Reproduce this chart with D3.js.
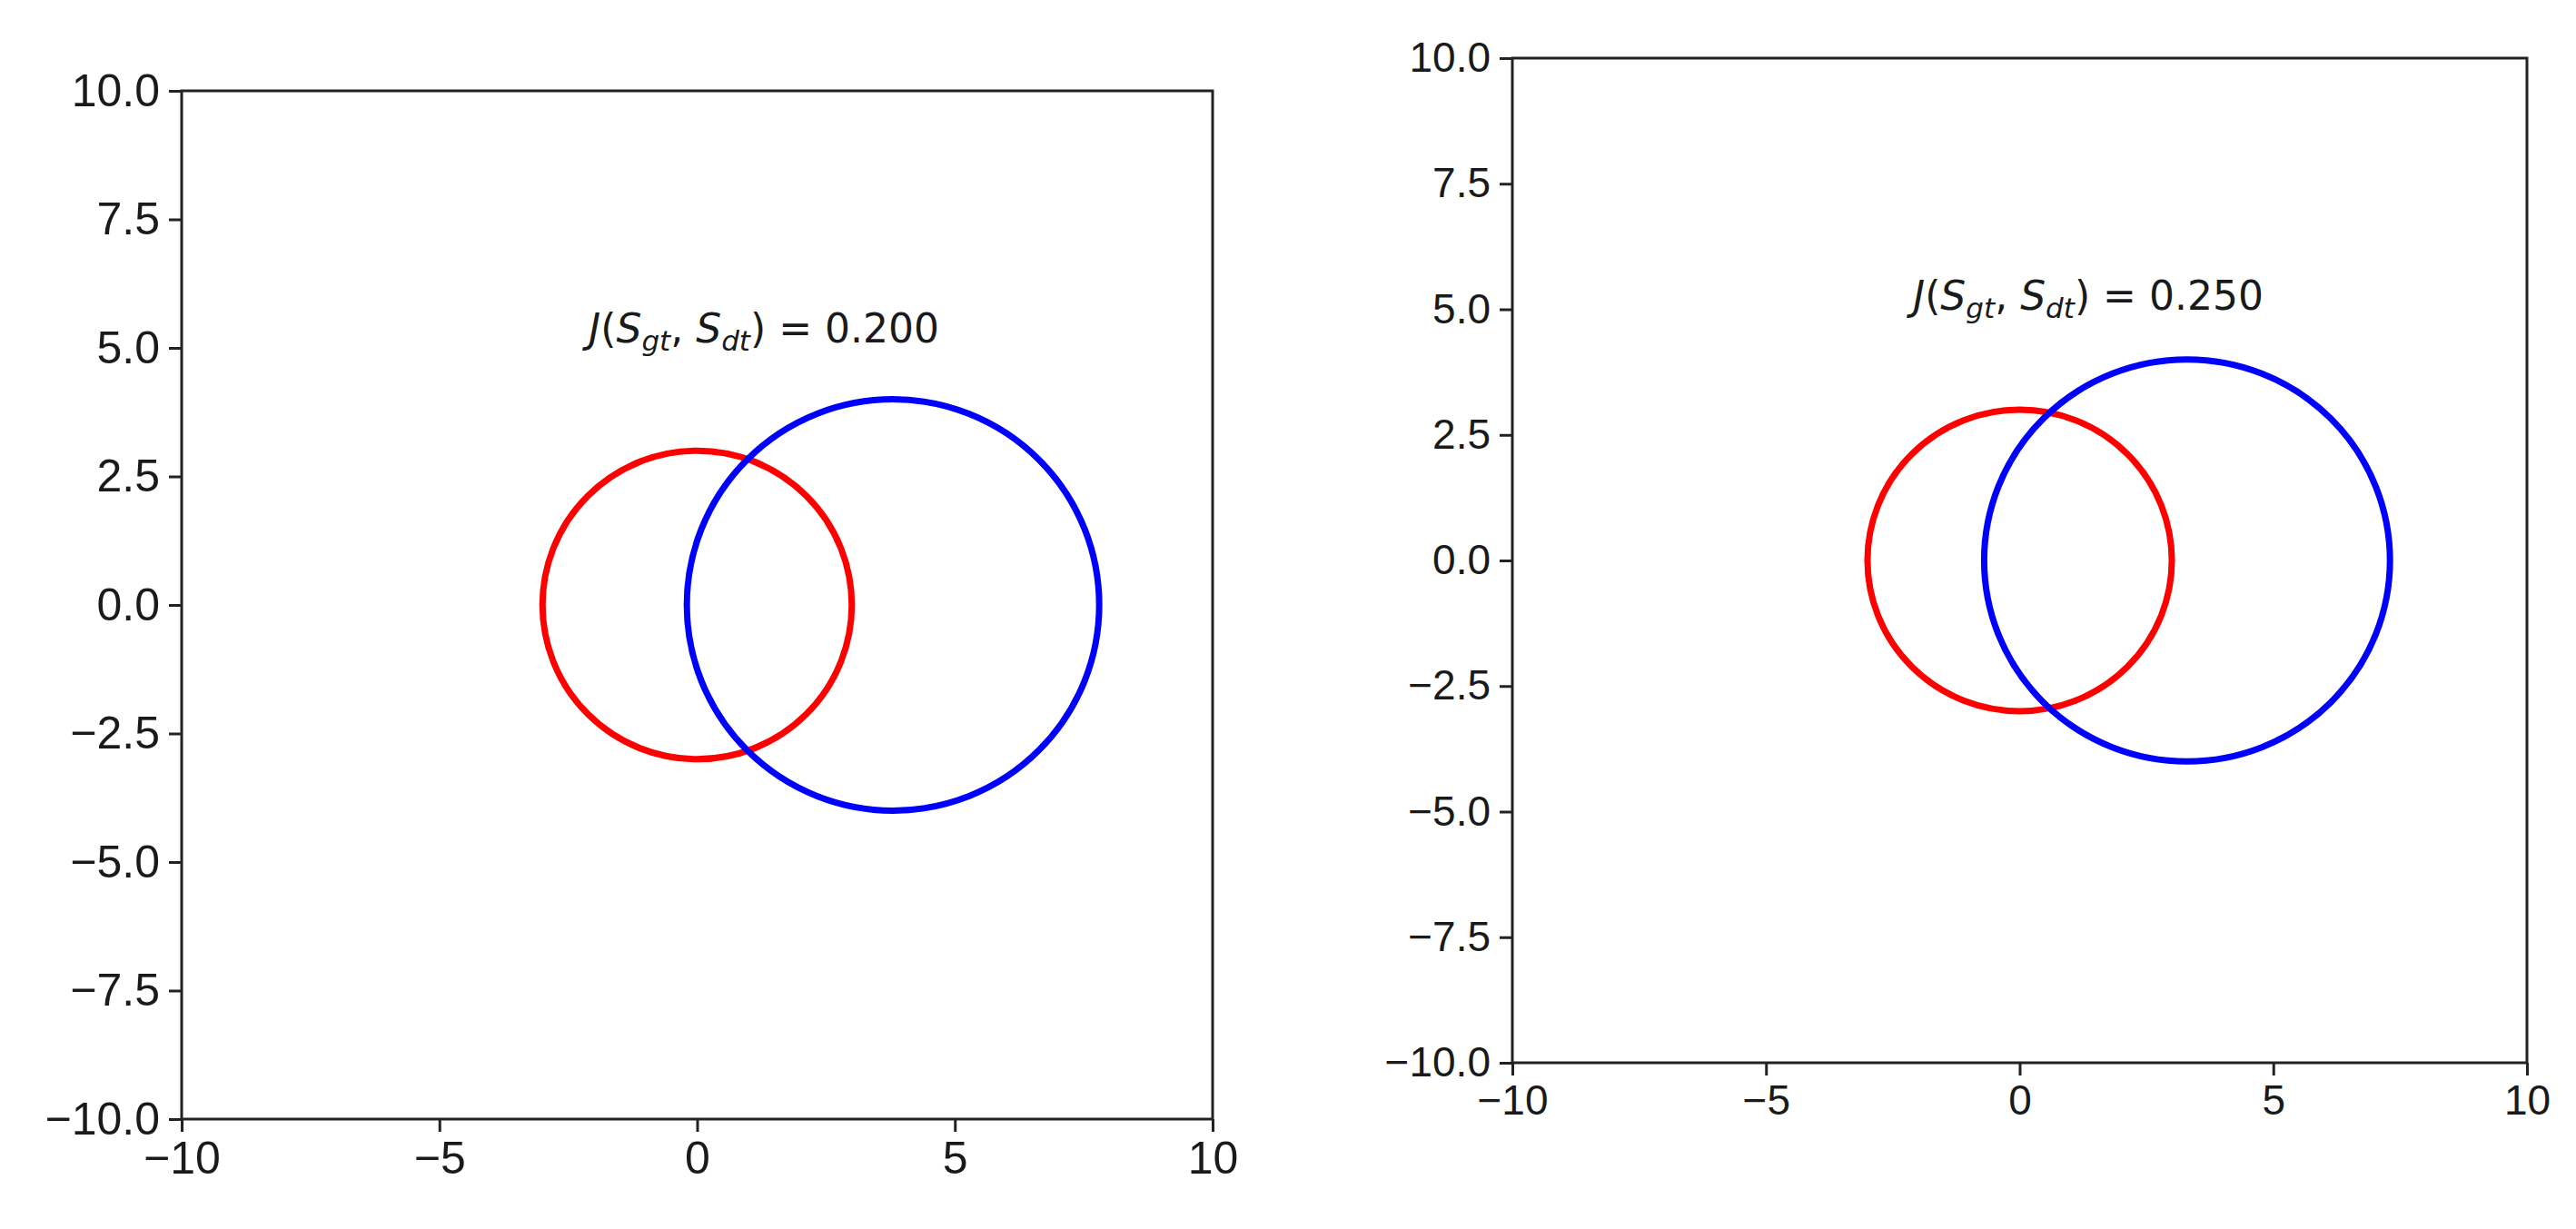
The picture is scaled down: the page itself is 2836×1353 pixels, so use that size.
<!DOCTYPE html>
<html><head><meta charset="utf-8">
<script src="https://cdn.jsdelivr.net/npm/d3@7"></script>
<style>body{margin:0;background:#fff}</style>
</head><body><div id="chart"></div>
<script>
const ticksX = [-10, -5, 0, 5, 10];
const ticksY = [-10, -7.5, -5, -2.5, 0, 2.5, 5, 7.5, 10];
const panelBoxes = [[200, 100, 1135, 1132], [1665, 64, 1117, 1106]];
const circleNames = ["gt", "dt"];
const circleColors = ["#ff0000", "#0000ff"];
const circleX = [[0, 3.8], [0, 3.3]];
const circleY = [[0, 0], [0, 0]];
const circleR = [[3, 4], [3, 4]];
const jaccard = [0.200, 0.250];
const labelPos = [[-2.1, 5.1], [-2.1, 5.0]];
const tickFont = [50, 46];

const svg = d3.select("#chart").append("svg").attr("width", 2836).attr("height", 1353);

panelBoxes.forEach((b, i) => {
  const [left, top, w, h] = b;
  const x = d3.scaleLinear().domain([-10, 10]).range([left, left + w]);
  const y = d3.scaleLinear().domain([-10, 10]).range([top + h, top]);
  const g = svg.append("g").style("font-family", "DejaVu Sans");

  const ax = g.append("g").attr("transform", `translate(0,${top + h})`)
    .call(d3.axisBottom(x).tickValues(ticksX).tickSize(14).tickPadding(10).tickFormat(d => d < 0 ? "\u2212" + Math.abs(d) : d));
  const ay = g.append("g").attr("transform", `translate(${left},0)`)
    .call(d3.axisLeft(y).tickValues(ticksY).tickSize(14).tickPadding(10).tickFormat(d => (d < 0 ? "\u2212" : "") + Math.abs(d).toFixed(1)));
  [ax, ay].forEach(a => {
    a.selectAll("text").style("font-size", tickFont[i] + "px").attr("fill", "#1a1a1a");
    a.selectAll("line").attr("stroke", "#222").attr("stroke-width", 3);
    a.select(".domain").remove();
  });
  g.append("rect").attr("x", left).attr("y", top).attr("width", w).attr("height", h)
    .attr("fill", "none").attr("stroke", "#222").attr("stroke-width", 3);

  circleNames.forEach((n, k) => {
    g.append("ellipse")
      .attr("cx", x(circleX[i][k])).attr("cy", y(circleY[i][k]))
      .attr("rx", x(circleR[i][k]) - x(0)).attr("ry", y(0) - y(circleR[i][k]))
      .attr("fill", "none").attr("stroke", circleColors[k]).attr("stroke-width", 7);
  });

  const t = g.append("text").attr("x", x(labelPos[i][0])).attr("y", y(labelPos[i][1]))
    .style("font-size", "44px").attr("fill", "#1a1a1a");
  t.append("tspan").style("font-style", "italic").text("J");
  t.append("tspan").text("(");
  t.append("tspan").style("font-style", "italic").text("S");
  t.append("tspan").style("font-style", "italic").style("font-size", "31px").attr("dy", 9).text("gt");
  t.append("tspan").attr("dy", -9).text(", ");
  t.append("tspan").style("font-style", "italic").text("S");
  t.append("tspan").style("font-style", "italic").style("font-size", "31px").attr("dy", 9).text("dt");
  t.append("tspan").attr("dy", -9).text(") = " + jaccard[i].toFixed(3));
});
</script></body></html>
